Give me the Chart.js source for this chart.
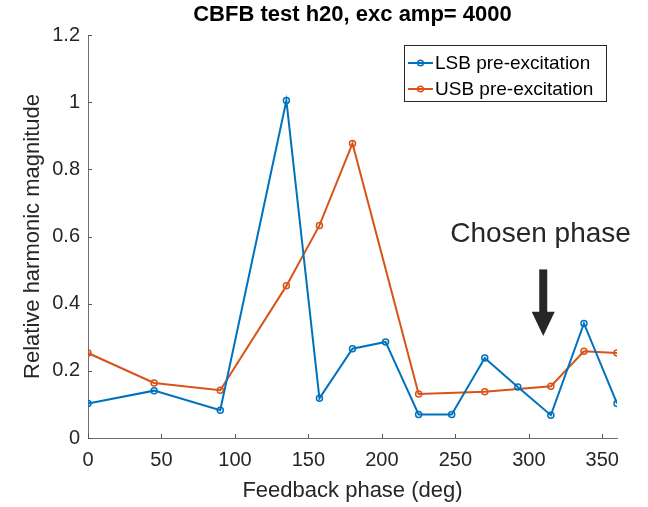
<!DOCTYPE html>
<html>
<head>
<meta charset="utf-8">
<script src="https://cdn.jsdelivr.net/npm/chart.js@4"></script>
<style>
 html,body{margin:0;padding:0;background:#fff;}
 #wrap{width:648px;height:507px;}
</style>
</head>
<body>
<div id="wrap"><canvas id="chart" width="648" height="507"></canvas></div>
<script>
// CBFB test h20 - harmonic magnitude vs feedback phase

const titleText = "CBFB test h20, exc amp= 4000";
const xTitle = "Feedback phase (deg)";
const yTitle = "Relative harmonic magnitude";

const lsbLabel = "LSB pre-excitation";
const lsbPhase = [0,45,90,135,157.5,180,202.5,225,247.5,270,292.5,315,337.5,360];
const lsbMag   = [0.103,0.141,0.083,1.005,0.118,0.266,0.286,0.070,0.070,0.238,0.152,0.068,0.341,0.103];

const usbLabel = "USB pre-excitation";
const usbPhase = [0,45,90,135,157.5,180,225,270,315,337.5,360];
const usbMag   = [0.253,0.164,0.142,0.453,0.633,0.877,0.131,0.138,0.154,0.258,0.253];

const xTicks = [0,50,100,150,200,250,300,350];
const yTicks = [0,0.2,0.4,0.6,0.8,1,1.2];

// annotation: "Chosen phase" arrow (data units)
const noteText = "Chosen phase";
const noteX = 308, noteY = 0.585;
const arrowX = 309.8, arrowTop = 0.502, arrowHeadBase = 0.376, arrowTip = 0.304;

const FONT = "'Liberation Sans', Arial, Helvetica, sans-serif";
const AX = "#262626";

function pts(xs,ys){ return xs.map((x,i)=>({x:x,y:ys[i]})); }

const extras = {
 id:'extras',
 afterDraw(chart){
  const ctx=chart.ctx, a=chart.chartArea, xs=chart.scales.x, ys=chart.scales.y;
  ctx.save();
  // inward tick marks
  ctx.strokeStyle="#555"; ctx.lineWidth=1;
  ctx.beginPath();
  yTicks.forEach(v=>{ const y=Math.round(ys.getPixelForValue(v))+0.5; ctx.moveTo(a.left,y); ctx.lineTo(a.left+4,y); });
  xTicks.forEach(v=>{ const x=Math.round(xs.getPixelForValue(v))+0.5; ctx.moveTo(x,a.bottom); ctx.lineTo(x,a.bottom-4); });
  ctx.stroke();

  // title
  ctx.fillStyle="#000"; ctx.font="bold 22px "+FONT;
  ctx.textAlign="center"; ctx.textBaseline="alphabetic";
  ctx.fillText(titleText,(a.left+a.right)/2,21);

  // annotation text + arrow
  ctx.fillStyle=AX; ctx.font="28px "+FONT;
  ctx.fillText(noteText,xs.getPixelForValue(noteX),ys.getPixelForValue(noteY));
  const ax=xs.getPixelForValue(arrowX);
  const yt=ys.getPixelForValue(arrowTop), yb=ys.getPixelForValue(arrowHeadBase), yp=ys.getPixelForValue(arrowTip);
  ctx.fillRect(ax-4,yt,8,yb-yt+1);
  ctx.beginPath(); ctx.moveTo(ax-11.5,yb); ctx.lineTo(ax+11.5,yb); ctx.lineTo(ax,yp); ctx.closePath(); ctx.fill();

  // legend
  const lx=404, ly=45, lw=202, lh=56;
  ctx.fillStyle="#fff"; ctx.fillRect(lx,ly,lw,lh);
  ctx.strokeStyle=AX; ctx.lineWidth=1;
  ctx.strokeRect(lx+0.5,ly+0.5,lw,lh);
  ctx.font="19px "+FONT; ctx.textAlign="left"; ctx.textBaseline="middle";
  chart.data.datasets.forEach((d,i)=>{
   const cy=ly+18+i*26;
   ctx.strokeStyle=d.borderColor; ctx.lineWidth=2;
   ctx.beginPath(); ctx.moveTo(lx+4,cy); ctx.lineTo(lx+29,cy); ctx.stroke();
   ctx.lineWidth=1.5; ctx.beginPath(); ctx.arc(lx+16.5,cy,2.8,0,Math.PI*2); ctx.stroke();
   ctx.fillStyle="#000"; ctx.fillText(d.label,lx+31,cy+1);
  });
  ctx.restore();
 }
};

const ds=(label,xs,ys,color)=>({
 label:label, data:pts(xs,ys), borderColor:color, backgroundColor:color,
 borderWidth:2, tension:0, pointRadius:3, pointBorderWidth:1.5,
 pointBackgroundColor:'rgba(0,0,0,0)', pointBorderColor:color, pointHoverRadius:3
});

new Chart(document.getElementById('chart'),{
 type:'line',
 data:{datasets:[ds(lsbLabel,lsbPhase,lsbMag,'#0072BD'),ds(usbLabel,usbPhase,usbMag,'#D95319')]},
 options:{
  responsive:false, animation:false,
  layout:{padding:{top:35,right:31,left:0,bottom:0}},
  plugins:{legend:{display:false},tooltip:{enabled:false}},
  scales:{
   x:{type:'linear',min:0,max:360,
    afterBuildTicks:s=>{s.ticks=xTicks.map(v=>({value:v}));},
    afterFit:s=>{s.height=69;},
    grid:{display:false,drawTicks:false},
    border:{display:true,color:"#6e6e6e",width:1},
    ticks:{color:AX,font:{family:FONT,size:20},padding:10,maxRotation:0,callback:v=>String(v)},
    title:{display:true,text:xTitle,color:AX,font:{family:FONT,size:22},padding:{top:0,bottom:3}}
   },
   y:{type:'linear',min:0,max:1.2,
    afterBuildTicks:s=>{s.ticks=yTicks.map(v=>({value:v}));},
    afterFit:s=>{s.width=88;},
    grid:{display:false,drawTicks:false},
    border:{display:true,color:"#6e6e6e",width:1},
    ticks:{color:AX,font:{family:FONT,size:20},padding:8,callback:v=>String(v)},
    title:{display:true,text:yTitle,color:AX,font:{family:FONT,size:22},padding:{top:20,bottom:0}}
   }
  }
 },
 plugins:[extras]
});
</script>
</body>
</html>
